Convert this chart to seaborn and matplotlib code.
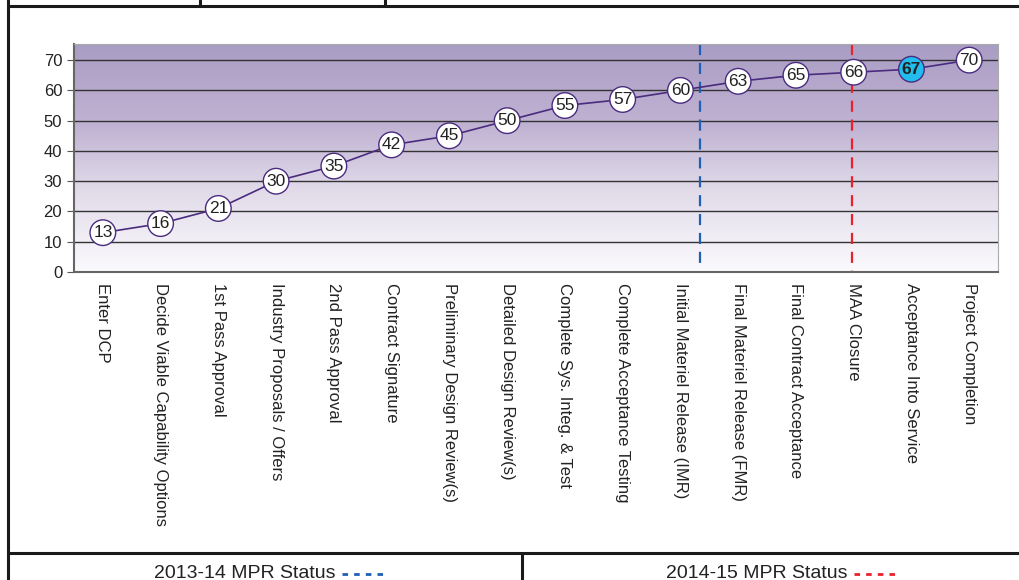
import numpy as np
import pandas as pd
import seaborn as sns
import matplotlib.pyplot as plt
from matplotlib.lines import Line2D
from matplotlib.colors import LinearSegmentedColormap

## Data
milestones = [
    "Enter DCP", "Decide Viable Capability Options", "1st Pass Approval",
    "Industry Proposals / Offers", "2nd Pass Approval", "Contract Signature",
    "Preliminary Design Review(s)", "Detailed Design Review(s)",
    "Complete Sys. Integ. & Test", "Complete Acceptance Testing",
    "Initial Materiel Release (IMR)", "Final Materiel Release (FMR)",
    "Final Contract Acceptance", "MAA Closure", "Acceptance Into Service",
    "Project Completion",
]
months = [13, 16, 21, 30, 35, 42, 45, 50, 55, 57, 60, 63, 65, 66, 67, 70]
highlight = "Acceptance Into Service"
status_labels = ["2013-14 MPR Status", "2014-15 MPR Status"]
status_pos = [10.34, 12.97]   # where the status lines sit on the category axis
status_colors = ["#1f5fb4", "#e8212b"]

df = pd.DataFrame({"x": np.arange(len(milestones)), "milestone": milestones, "months": months})

sns.set_style("white")
plt.rcParams['font.family'] = ['Liberation Sans', 'DejaVu Sans']

fig = plt.figure(figsize=(10.2, 5.8), dpi=100)
ax = fig.add_axes([0.0725, 0.531, 0.906, 0.393])

# gradient background
cmap = LinearSegmentedColormap.from_list("bg", [(0, "#fbfafd"), (0.35, "#e2dcea"), (0.65, "#bfb2d2"), (1, "#aa9dc4")])
grad = np.linspace(0, 1, 256).reshape(-1, 1)
ax.imshow(grad, cmap=cmap, aspect="auto", extent=[-0.5, 15.5, 0, 75.3], origin="lower", zorder=0)

for v in range(10, 80, 10):
    ax.axhline(v, color="#333333", lw=1.0, zorder=1)

sns.lineplot(data=df, x="x", y="months", color="#4a2b7e", lw=1.2, ax=ax, zorder=3)
colors = ["#22bdee" if m == highlight else "white" for m in milestones]
ax.scatter(df["x"], df["months"], s=340, c=colors, edgecolors="#4a2b7e", linewidths=1.0, zorder=4)
for i, (m, v) in enumerate(zip(milestones, months)):
    ax.text(i, v, str(v), ha="center", va="center", fontsize=12.5, zorder=5,
            color="#222222", fontweight="bold" if m == highlight else "normal")

# status lines (drawn top-down so dashes start at the top edge)
ax.plot([status_pos[0]] * 2, [75.3, 2.3], color=status_colors[0], lw=1.6, ls=(0, (5, 3.5)), zorder=2)
ax.plot([status_pos[1]] * 2, [75.3, 0], color=status_colors[1], lw=1.6, ls=(0, (5, 3.5)), zorder=2)

ax.set_xlim(-0.5, 15.5)
ax.set_ylim(0, 75.3)
ax.set_yticks(range(0, 80, 10))
ax.set_xticks(np.arange(-0.5, 16, 1))
ax.set_xticklabels([])
ax.set_xticks(np.arange(len(milestones)), minor=True)
ax.set_xticklabels(milestones, minor=True, rotation=-90, fontsize=12, va="top", ha="center", color="#222222")
ax.tick_params(axis="x", which="major", length=5, direction="out", color="#555555", width=1)
ax.tick_params(axis="x", which="minor", length=0, pad=8)
ax.tick_params(axis="y", length=5, direction="out", color="#555555", labelsize=12, labelcolor="#222222", left=True)
ax.set_xlabel("")
ax.set_ylabel("")
for s in ["top", "right"]:
    ax.spines[s].set_color("#aaaaaa")
ax.spines["left"].set_color("#666666")
ax.spines["bottom"].set_color("#666666")
ax.spines["bottom"].set_linewidth(1.5)
ax.spines["left"].set_linewidth(1.5)

# surrounding table frame
def fl(x0, y0, x1, y1):
    fig.add_artist(Line2D([x0 / 1020, x1 / 1020], [1 - y0 / 580, 1 - y1 / 580], color="#1a1a1a", lw=2.2))

fl(8, 6, 1020, 6)
fl(200, 0, 200, 6)
fl(385, 0, 385, 6)
fl(8, 0, 8, 580)
fl(8, 553, 1020, 553)
fl(522, 553, 522, 580)

fig.text(336 / 1020, 1 - 573 / 580, status_labels[0], ha="right", va="center", fontsize=14, color="#222222")
fig.text(848 / 1020, 1 - 573 / 580, status_labels[1], ha="right", va="center", fontsize=14, color="#222222")
fig.add_artist(Line2D([342 / 1020, 385 / 1020], [1 - 574 / 580] * 2, color=status_colors[0], lw=2, ls=(0, (2, 2.2))))
fig.add_artist(Line2D([854 / 1020, 897 / 1020], [1 - 574 / 580] * 2, color=status_colors[1], lw=2, ls=(0, (2, 2.2))))

fig.savefig("out.png", dpi=100)
